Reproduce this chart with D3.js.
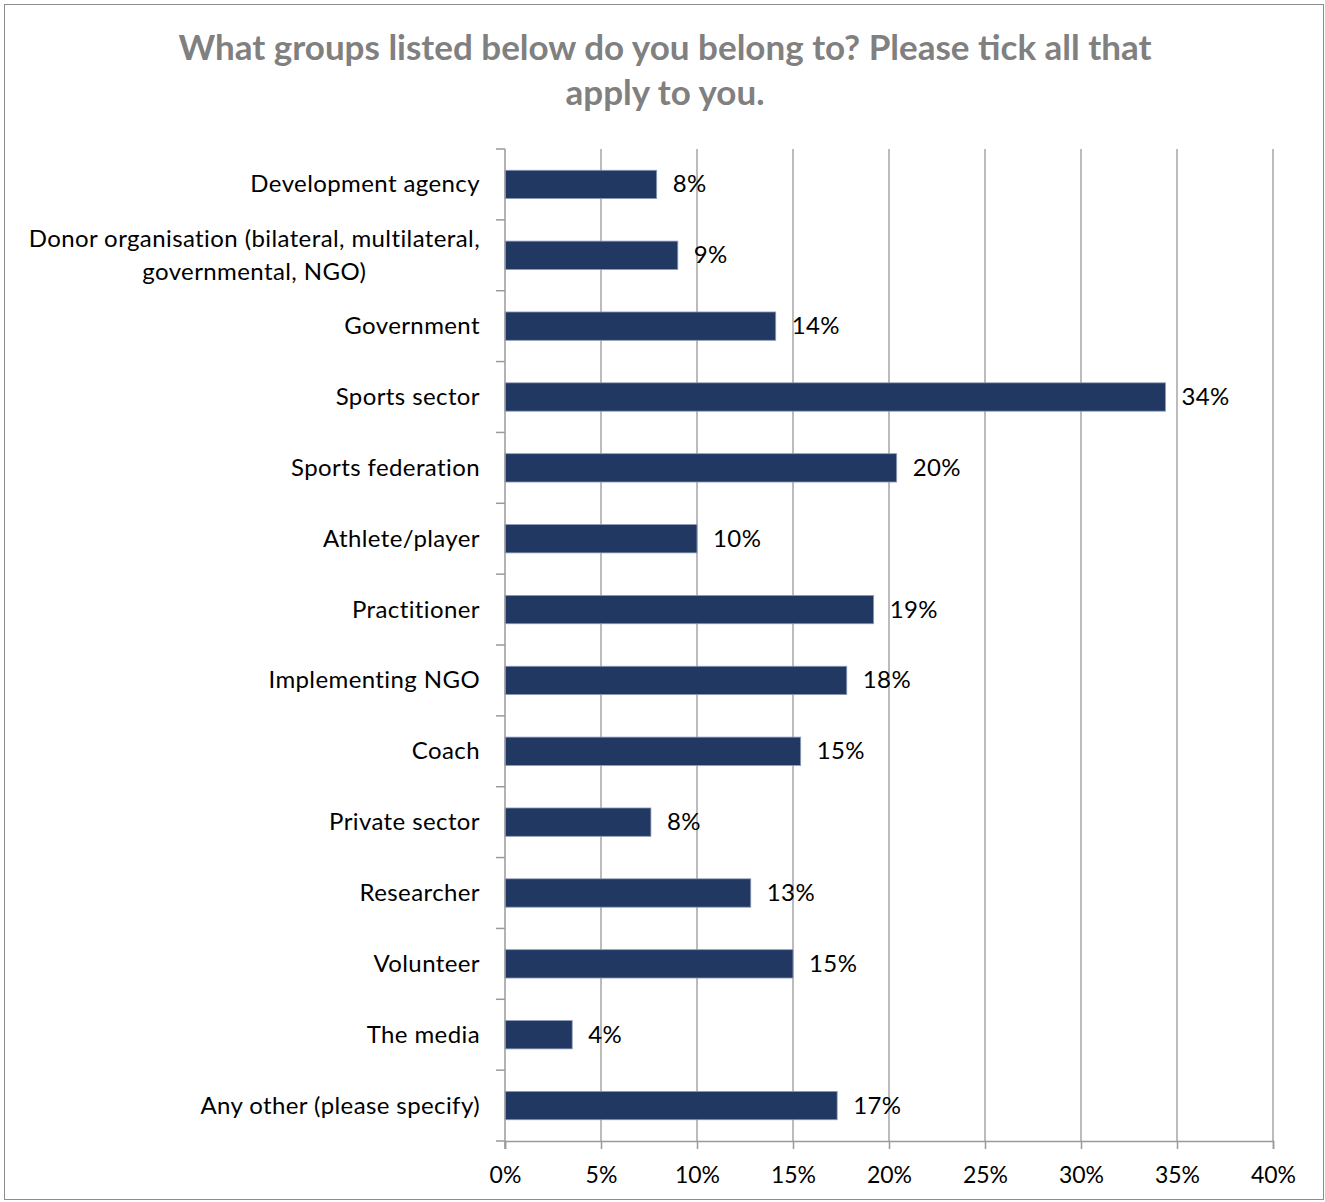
<!DOCTYPE html>
<html>
<head>
<meta charset="utf-8">
<script src="https://cdn.jsdelivr.net/npm/d3@7"></script>
<style>
  html, body { margin: 0; padding: 0; background: #fff; }
  svg { display: block; }
  text { font-family: Lato, "Open Sans", sans-serif; }
</style>
</head>
<body>
<svg id="chart" width="1325" height="1202"></svg>
<script>
// Survey: share of respondents in each group (percent)
const categories = [
  "Development agency",
  "Donor organisation (bilateral, multilateral,|governmental, NGO)",
  "Government",
  "Sports sector",
  "Sports federation",
  "Athlete/player",
  "Practitioner",
  "Implementing NGO",
  "Coach",
  "Private sector",
  "Researcher",
  "Volunteer",
  "The media",
  "Any other (please specify)"
];
const values = [7.9, 9.0, 14.1, 34.4, 20.4, 10.0, 19.2, 17.8, 15.4, 7.6, 12.8, 15.0, 3.5, 17.3];
const xTicks = [0, 5, 10, 15, 20, 25, 30, 35, 40];
const titleLines = [
  "What groups listed below do you belong to? Please tick all that",
  "apply to you."
];

const W = 1325, H = 1202;
const margin = { top: 149, right: 52, bottom: 61, left: 505 };
const innerW = W - margin.left - margin.right;
const innerH = H - margin.top - margin.bottom;

const axisGrey = "#9a9a9a";
const labelSize = 24, labelSpacing = 0.4;

const svg = d3.select("#chart");

// outer frame
svg.append("rect")
  .attr("x", 4.5).attr("y", 4.5)
  .attr("width", W - 6).attr("height", H - 7)
  .attr("fill", "#fff").attr("stroke", "#8c8c8c").attr("stroke-width", 1);

// title
svg.append("g").selectAll("text")
  .data(titleLines)
  .join("text")
  .attr("x", 665)
  .attr("y", (d, i) => 60 + i * 45)
  .attr("text-anchor", "middle")
  .attr("font-size", 35)
  .attr("font-weight", 700)
  .attr("fill", "#808080")
  .text(d => d);

const g = svg.append("g").attr("transform", `translate(${margin.left},${margin.top})`);

const x = d3.scaleLinear().domain([0, 40]).range([0, innerW]);
const y = d3.scaleBand().domain(categories).range([0, innerH])
  .paddingInner(0.6).paddingOuter(0.3);

// vertical gridlines
g.append("g").selectAll("line")
  .data(xTicks.filter(t => t > 0))
  .join("line")
  .attr("x1", d => x(d)).attr("x2", d => x(d))
  .attr("y1", 0).attr("y2", innerH)
  .attr("stroke", "#a6a6a6").attr("stroke-width", 1.5);

// bars
g.append("g").selectAll("rect")
  .data(categories)
  .join("rect")
  .attr("x", x(0))
  .attr("y", d => y(d))
  .attr("width", (d, i) => x(values[i]) - x(0))
  .attr("height", y.bandwidth())
  .attr("fill", "#213862")
  .attr("stroke", "#8e9cb6")
  .attr("stroke-width", 0.8);

// value labels
const fmt = v => d3.format(".0f")(v) + "%";
g.append("g").selectAll("text")
  .data(categories)
  .join("text")
  .attr("x", (d, i) => x(values[i]) + 16)
  .attr("y", d => y(d) + y.bandwidth() / 2 + 8)
  .attr("font-size", labelSize)
  .attr("letter-spacing", labelSpacing)
  .attr("fill", "#000")
  .text((d, i) => fmt(values[i]));

// x axis
const xAxis = g.append("g")
  .attr("transform", `translate(0,${innerH})`)
  .call(d3.axisBottom(x).tickValues(xTicks).tickSize(8).tickPadding(18).tickFormat(d => d + "%"));
xAxis.select(".domain").attr("stroke", axisGrey).attr("stroke-width", 1.5);
xAxis.selectAll(".tick line").attr("stroke", axisGrey).attr("stroke-width", 1.5);
xAxis.selectAll(".tick text")
  .attr("font-family", "Lato, sans-serif")
  .attr("font-size", 23).attr("fill", "#000");

// y axis line with ticks at band boundaries
g.append("line")
  .attr("x1", 0).attr("x2", 0)
  .attr("y1", 0).attr("y2", innerH + 8)
  .attr("stroke", axisGrey).attr("stroke-width", 1.5);
g.append("g").selectAll("line")
  .data(d3.range(categories.length + 1))
  .join("line")
  .attr("x1", -9).attr("x2", 0)
  .attr("y1", i => i * y.step()).attr("y2", i => i * y.step())
  .attr("stroke", axisGrey).attr("stroke-width", 1.5);

// category labels (multi-line labels are centred as a block, right-aligned to the axis)
const labelRight = -25;
const catG = g.append("g");
categories.forEach(c => {
  const lines = c.split("|");
  const cy = y(c) + y.bandwidth() / 2;
  const lh = 33;
  const t = catG.append("text")
    .attr("font-size", labelSize)
    .attr("letter-spacing", labelSpacing)
    .attr("fill", "#000");
  lines.forEach((ln, j) => {
    t.append("tspan")
      .attr("y", cy + 8 + (j - (lines.length - 1) / 2) * lh)
      .text(ln);
  });
  if (lines.length === 1) {
    t.attr("text-anchor", "end").selectAll("tspan").attr("x", labelRight);
  } else {
    const widths = t.selectAll("tspan").nodes().map(n => n.getComputedTextLength());
    const maxW = d3.max(widths);
    t.attr("text-anchor", "middle").selectAll("tspan").attr("x", labelRight - maxW / 2);
  }
});
</script>
</body>
</html>
